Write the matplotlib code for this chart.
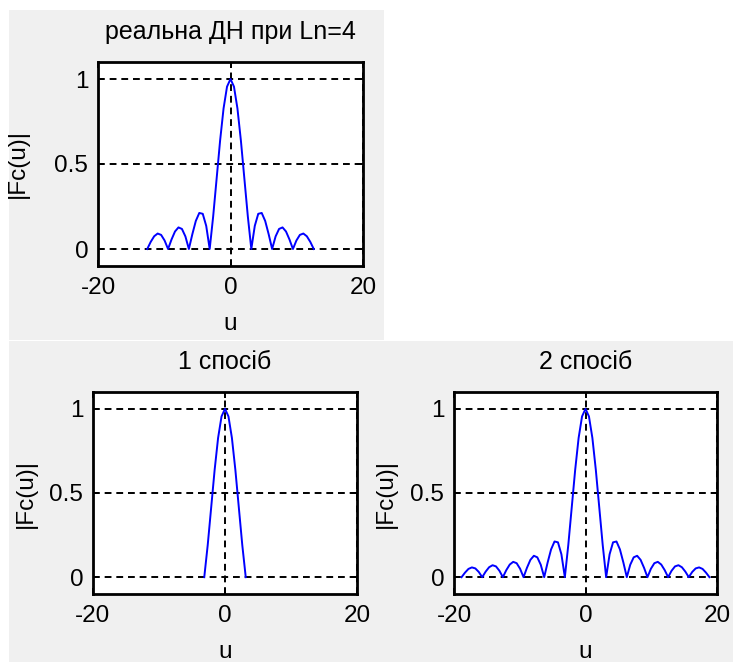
import matplotlib
matplotlib.use("Agg")
import matplotlib.pyplot as plt
from matplotlib.patches import Rectangle

plt.rcParams['font.family'] = ['Liberation Sans', 'DejaVu Sans']
plt.rcParams['axes.unicode_minus'] = False

# ---- data ----
u_real = [-12.566, -12.043, -11.519, -10.996, -10.472, -9.948, -9.425, -8.901, -8.378, -7.854,
          -7.330, -6.807, -6.283, -5.760, -5.236, -4.712, -4.189, -3.665, -3.142, -2.618,
          -2.094, -1.571, -1.047, -0.524, 0.0, 0.524, 1.047, 1.571, 2.094, 2.618,
          3.142, 3.665, 4.189, 4.712, 5.236, 5.760, 6.283, 6.807, 7.330, 7.854,
          8.378, 8.901, 9.425, 9.948, 10.472, 10.996, 11.519, 12.043, 12.566]
f_real = [0.0, 0.042, 0.075, 0.091, 0.083, 0.050, 0.0, 0.056, 0.103, 0.127,
          0.118, 0.074, 0.0, 0.087, 0.165, 0.212, 0.207, 0.136, 0.0, 0.191,
          0.414, 0.637, 0.827, 0.955, 1.0, 0.955, 0.827, 0.637, 0.414, 0.191,
          0.0, 0.136, 0.207, 0.212, 0.165, 0.087, 0.0, 0.074, 0.118, 0.127,
          0.103, 0.056, 0.0, 0.050, 0.083, 0.091, 0.075, 0.042, 0.0]

u_m1 = [-3.142, -2.618, -2.094, -1.571, -1.047, -0.524, 0.0, 0.524, 1.047, 1.571, 2.094, 2.618, 3.142]
f_m1 = [0.0, 0.191, 0.414, 0.637, 0.827, 0.955, 1.0, 0.955, 0.827, 0.637, 0.414, 0.191, 0.0]

u_m2 = [-18.850, -18.326, -17.802, -17.279, -16.755, -16.232, -15.708, -15.184, -14.661, -14.137,
        -13.614, -13.090, -12.566, -12.043, -11.519, -10.996, -10.472, -9.948, -9.425, -8.901,
        -8.378, -7.854, -7.330, -6.807, -6.283, -5.760, -5.236, -4.712, -4.189, -3.665,
        -3.142, -2.618, -2.094, -1.571, -1.047, -0.524, 0.0, 0.524, 1.047, 1.571,
        2.094, 2.618, 3.142, 3.665, 4.189, 4.712, 5.236, 5.760, 6.283, 6.807,
        7.330, 7.854, 8.378, 8.901, 9.425, 9.948, 10.472, 10.996, 11.519, 12.043,
        12.566, 13.090, 13.614, 14.137, 14.661, 15.184, 15.708, 16.232, 16.755, 17.279,
        17.802, 18.326, 18.850]
f_m2 = [0.0, 0.027, 0.049, 0.058, 0.052, 0.031, 0.0, 0.033, 0.059, 0.071,
        0.064, 0.038, 0.0, 0.042, 0.075, 0.091, 0.083, 0.050, 0.0, 0.056,
        0.103, 0.127, 0.118, 0.074, 0.0, 0.087, 0.165, 0.212, 0.207, 0.136,
        0.0, 0.191, 0.414, 0.637, 0.827, 0.955, 1.0, 0.955, 0.827, 0.637,
        0.414, 0.191, 0.0, 0.136, 0.207, 0.212, 0.165, 0.087, 0.0, 0.074,
        0.118, 0.127, 0.103, 0.056, 0.0, 0.050, 0.083, 0.091, 0.075, 0.042,
        0.0, 0.038, 0.064, 0.071, 0.059, 0.033, 0.0, 0.031, 0.052, 0.058,
        0.049, 0.027, 0.0]

titles = ["реальна ДН при Ln=4", "1 спосіб", "2 спосіб"]
x_ticks = [-20, 0, 20]
x_ticklabels = ["-20", "0", "20"]
y_ticks = [0, 0.5, 1]
y_ticklabels = ["0", "0.5", "1"]
xlabel = "u"
ylabel = "|Fc(u)|"

W, H = 733, 662
fig = plt.figure(figsize=(W / 100, H / 100), dpi=100, facecolor='white')

gray = '#f0f0f0'
fig.patches.append(Rectangle((9 / W, 1 - 340 / H), 375 / W, 330 / H,
                             transform=fig.transFigure, facecolor=gray, edgecolor='none', zorder=-5))
fig.patches.append(Rectangle((9 / W, 0), (W - 9) / W, 321 / H,
                             transform=fig.transFigure, facecolor=gray, edgecolor='none', zorder=-5))


def px_axes(left, top, right, bottom):
    return fig.add_axes([left / W, 1 - bottom / H, (right - left) / W, (bottom - top) / H])


specs = [
    ((98, 62, 363, 266), u_real, f_real, titles[0], -80),
    ((93, 392, 357, 594), u_m1, f_m1, titles[1], -67),
    ((454, 392, 717, 594), u_m2, f_m2, titles[2], -68),
]

FS = 17.5
FT = 18
for (l, t, r, b), u, f, title, ylab_dx in specs:
    ax = px_axes(l, t, r, b)
    ax.set_facecolor('white')
    ax.plot(u, f, color='#0000ff', lw=1.4, zorder=3)
    ax.set_xlim(-20, 20)
    ax.set_ylim(-0.1, 1.1)
    ax.set_xticks(x_ticks)
    ax.set_xticklabels(x_ticklabels)
    ax.set_yticks(y_ticks)
    ax.set_yticklabels(y_ticklabels)
    ax.tick_params(direction='in', length=4, width=1.4, labelsize=FS,
                   top=True, right=True, pad=7)
    ax.tick_params(axis='x', pad=8)
    for sp in ax.spines.values():
        sp.set_linewidth(2.0)
    ax.grid(True, color='black', linestyle=(0, (3.5, 2.5)), linewidth=1.4)
    ax.set_axisbelow(True)
    h = b - t
    wpx = r - l
    ax.set_title(title, fontsize=FT, y=1 + 30 / h, va='center', pad=0)
    ax.set_xlabel(xlabel, fontsize=FS)
    ax.xaxis.set_label_coords(0.5, -58 / h)
    ax.xaxis.label.set_va('center')
    ax.set_ylabel(ylabel, fontsize=FS)
    ax.yaxis.set_label_coords(ylab_dx / wpx, 0.5)
    ax.yaxis.label.set_va('center')

fig.savefig("out.png", dpi=100, facecolor=fig.get_facecolor())
